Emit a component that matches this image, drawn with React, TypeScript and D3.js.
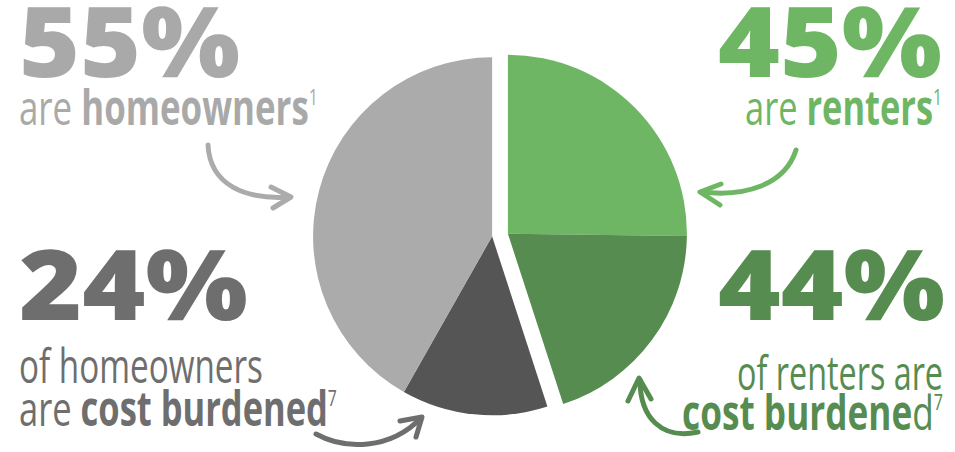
import React, { useLayoutEffect, useRef, useState } from "react";
import * as d3 from "d3";

// ---- data ----
const tenure = ["Renters", "Homeowners"];
const tenureShare = [45, 55];
// sub-split within each tenure group, in clockwise drawing order
const renterParts = ["Not burdened", "Cost burdened"];
const renterValues = [56, 44];
const ownerParts = ["Cost burdened", "Not burdened"];
const ownerValues = [24, 76];

const W = 955;
const H = 452;
const FONT = "'Open Sans', 'DejaVu Sans', sans-serif";

const C = {
  lightGreen: "#6eb664",
  darkGreen: "#568c4f",
  lightGray: "#ababab",
  darkGray: "#555555",
  textGray: "#a9a9a9",
  textDarkGray: "#6e6e6e",
};

type FitProps = {
  x: number;
  y: number;
  width: number;
  anchor?: "start" | "end";
  fill: string;
  fontSize: number;
  fontWeight?: number;
  children: React.ReactNode;
};

function FitText({ x, y, width, anchor = "start", fill, fontSize, fontWeight = 400, children }: FitProps) {
  const ref = useRef<SVGTextElement>(null);
  const [s, setS] = useState(1);
  useLayoutEffect(() => {
    if (ref.current) {
      const w = ref.current.getBBox().width;
      if (w > 0) setS(width / w);
    }
  }, [width]);
  return (
    <g transform={`translate(${x},${y}) scale(${s},1)`}>
      <text
        ref={ref}
        x={0}
        y={0}
        textAnchor={anchor}
        fill={fill}
        fontFamily={FONT}
        fontSize={fontSize}
        fontWeight={fontWeight}
      >
        {children}
      </text>
    </g>
  );
}

export default function App() {
  const cx = 500;
  const cy = 235;
  const r = 179;
  const explode = 8;

  const pie = d3
    .pie<number>()
    .sort(null)
    .startAngle(0)
    .endAngle(2 * Math.PI)
    .value((d) => d);
  const groups = pie(tenureShare);
  const arc = d3.arc<any>().innerRadius(0).outerRadius(r);

  const subSets = [
    { values: renterValues, names: renterParts, colors: [C.lightGreen, C.darkGreen] },
    { values: ownerValues, names: ownerParts, colors: [C.darkGray, C.lightGray] },
  ];

  const slices: { d: string; fill: string; key: string; dx: number; dy: number }[] = [];
  groups.forEach((g, gi) => {
    const mid = (g.startAngle + g.endAngle) / 2;
    const dx = explode * Math.sin(mid);
    const dy = -explode * Math.cos(mid);
    const sub = subSets[gi];
    const scale = d3.scaleLinear().domain([0, d3.sum(sub.values)]).range([g.startAngle, g.endAngle]);
    let acc = 0;
    sub.values.forEach((v, si) => {
      const a0 = scale(acc);
      acc += v;
      const a1 = scale(acc);
      slices.push({
        d: arc({ startAngle: a0, endAngle: a1 }) as string,
        fill: sub.colors[si],
        key: tenure[gi] + sub.names[si],
        dx,
        dy,
      });
    });
  });

  const BIG = 98;
  const SMALL = 48;
  const SUP = 22;
  const SUPDY = -20;

  const arrowStyle = (color: string) => ({
    fill: "none",
    stroke: color,
    strokeWidth: 5,
    strokeLinecap: "round" as const,
    strokeLinejoin: "round" as const,
  });

  return (
    <svg width={W} height={H} style={{ position: "absolute", left: 0, top: 0, background: "#fff" }}>
      <rect width={W} height={H} fill="#fff" />
      <g transform={`translate(${cx},${cy})`}>
        {slices.map((s) => (
          <path key={s.key} d={s.d} fill={s.fill} transform={`translate(${s.dx},${s.dy})`} />
        ))}
      </g>

      {/* top-left */}
      <FitText x={19} y={77} width={221} fill={C.textGray} fontSize={BIG} fontWeight={800}>
        {tenureShare[1]}%
      </FitText>
      <FitText x={19} y={125} width={299} fill={C.textGray} fontSize={SMALL}>
        are <tspan fontWeight={700}>homeowners</tspan>
        <tspan fontSize={SUP} dy={SUPDY}>1</tspan>
      </FitText>

      {/* top-right */}
      <FitText x={942} y={77} width={224} anchor="end" fill={C.lightGreen} fontSize={BIG} fontWeight={800}>
        {tenureShare[0]}%
      </FitText>
      <FitText x={942} y={125} width={197} anchor="end" fill={C.lightGreen} fontSize={SMALL}>
        are <tspan fontWeight={700}>renters</tspan>
        <tspan fontSize={SUP} dy={SUPDY}>1</tspan>
      </FitText>

      {/* bottom-left */}
      <FitText x={19} y={320} width={229} fill={C.textDarkGray} fontSize={BIG} fontWeight={800}>
        {ownerValues[0]}%
      </FitText>
      <FitText x={19} y={383} width={244} fill={C.textDarkGray} fontSize={SMALL}>
        of homeowners
      </FitText>
      <FitText x={19} y={426} width={318} fill={C.textDarkGray} fontSize={SMALL}>
        are <tspan fontWeight={700}>cost burdened</tspan>
        <tspan fontSize={SUP} dy={SUPDY}>7</tspan>
      </FitText>

      {/* bottom-right */}
      <FitText x={945} y={320} width={227} anchor="end" fill={C.darkGreen} fontSize={BIG} fontWeight={800}>
        {renterValues[1]}%
      </FitText>
      <FitText x={943} y={390} width={206} anchor="end" fill={C.darkGreen} fontSize={SMALL}>
        of renters are
      </FitText>
      <FitText x={943} y={430} width={261} anchor="end" fill={C.darkGreen} fontSize={SMALL}>
        <tspan fontWeight={700}>cost burdene</tspan>d
        <tspan fontSize={SUP} dy={SUPDY}>7</tspan>
      </FitText>

      {/* arrows */}
      <g style={arrowStyle("#ababab")}>
        <path d="M208,145 C210,185 245,200 290,197" />
        <path d="M271,187 L291,197 L273,208" />
      </g>
      <g style={arrowStyle(C.lightGreen)}>
        <path d="M796,150 C785,185 745,197 702,192" />
        <path d="M721,184 L700,192 L720,205" />
      </g>
      <g style={arrowStyle("#6e6e6e")}>
        <path d="M316,434 C345,450 390,450 421,418" />
        <path d="M400,421 L422,417 L416,437" />
      </g>
      <g style={arrowStyle(C.darkGreen)}>
        <path d="M698,432 C662,440 640,418 640,380" />
        <path d="M628,401 L639,378 L651,399" />
      </g>
    </svg>
  );
}
